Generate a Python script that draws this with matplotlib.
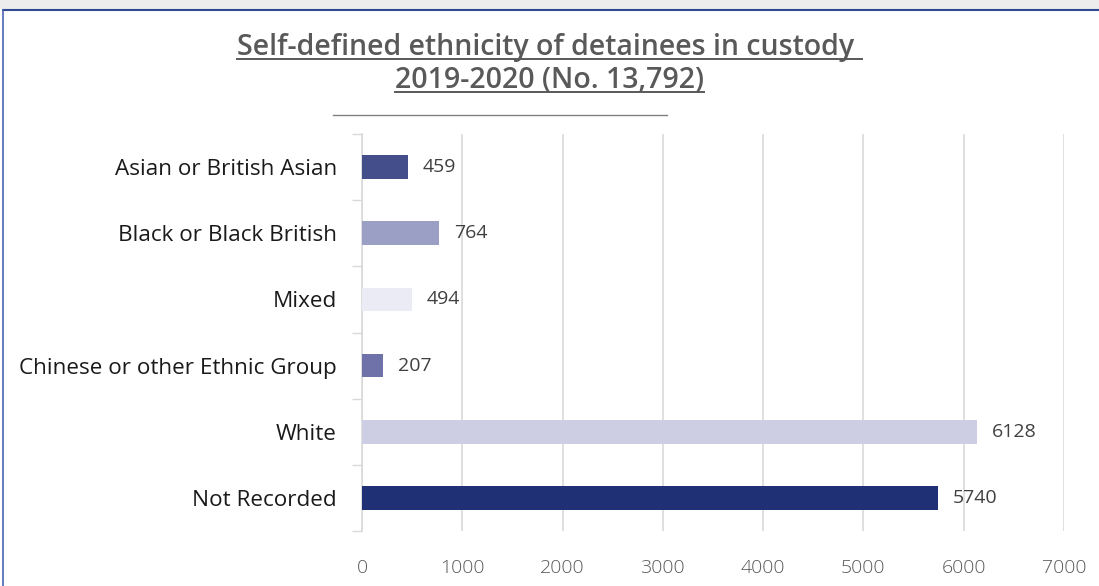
import matplotlib.pyplot as plt
from matplotlib.patches import Rectangle
from matplotlib.lines import Line2D

plt.rcParams['font.family'] = ['Open Sans', 'DejaVu Sans']

categories = ['Asian or British Asian', 'Black or Black British', 'Mixed',
              'Chinese or other Ethnic Group', 'White', 'Not Recorded']
counts = [459, 764, 494, 207, 6128, 5740]
bar_colors = ['#434E8A', '#9B9EC5', '#EBEBF5', '#6E72A8', '#CDCEE3', '#1F3174']
xticks = [0, 1000, 2000, 3000, 4000, 5000, 6000, 7000]

W, H = 1099, 586
fig = plt.figure(figsize=(W / 100, H / 100), dpi=100)
fig.patch.set_facecolor('white')

# frame: shaded strip on top, blue border line top and left
fig.add_artist(Rectangle((0, 1 - 9 / H), 1, 9 / H, transform=fig.transFigure,
                         facecolor='#EDEDED', edgecolor='none'))
fig.add_artist(Line2D([3 / W, 1], [1 - 10 / H, 1 - 10 / H], transform=fig.transFigure,
                      color='#2F4A8E', lw=1.5))
fig.add_artist(Line2D([3 / W, 3 / W], [0, 1 - 10 / H], transform=fig.transFigure,
                      color='#4A64B0', lw=1.2))

ax = fig.add_axes([362 / W, 1 - 531 / H, (1064 - 362) / W, (531 - 134) / H])
y = list(range(len(categories)))
ax.barh(y, counts, height=0.36, color=bar_colors, zorder=3)
ax.set_ylim(len(categories) - 0.5, -0.5)
ax.set_xlim(0, 7000)
ax.set_xticks(xticks)
ax.set_xticklabels([str(t) for t in xticks], color='#595959', fontsize=14, fontweight='light')
ax.tick_params(axis='x', length=0, pad=20)

ax.set_yticks(y)
ax.set_yticklabels(categories, fontsize=16.2, color='#1A1A1A')
ax.tick_params(axis='y', length=0, pad=18)
# category separator ticks
ax.set_yticks([i - 0.5 for i in range(len(categories) + 1)], minor=True)
ax.tick_params(axis='y', which='minor', length=7, color='#D9D9D9', width=1)

ax.grid(axis='x', color='#D9D9D9', lw=1.2, zorder=0)
for s in ['top', 'right', 'bottom']:
    ax.spines[s].set_visible(False)
ax.spines['left'].set_color('#D9D9D9')
ax.spines['left'].set_linewidth(1.2)

for yi, v in zip(y, counts):
    ax.text(v + 150, yi, str(v), va='center', ha='left', fontsize=14, color='#404040',
            zorder=4)

# title with underlines
t1 = fig.text(0.5, 1 - 47 / H, 'Self-defined ethnicity of detainees in custody ', ha='center',
              va='center', fontsize=20.5, fontweight='semibold', color='#595959')
t2 = fig.text(0.5, 1 - 80 / H, '2019-2020 (No. 13,792)', ha='center', va='center',
              fontsize=20.5, fontweight='semibold', color='#595959')
fig.canvas.draw()
r = fig.canvas.get_renderer()
for t in (t1, t2):
    bb = t.get_window_extent(r)
    yy = bb.y0 + 3
    fig.add_artist(Line2D([bb.x0 / W, bb.x1 / W], [yy / H, yy / H], transform=fig.transFigure,
                          color='#595959', lw=1.4))
fig.add_artist(Line2D([333 / W, 667 / W], [1 - 115 / H, 1 - 115 / H], transform=fig.transFigure,
                      color='#808080', lw=1))

fig.savefig('out.png', dpi=100)
